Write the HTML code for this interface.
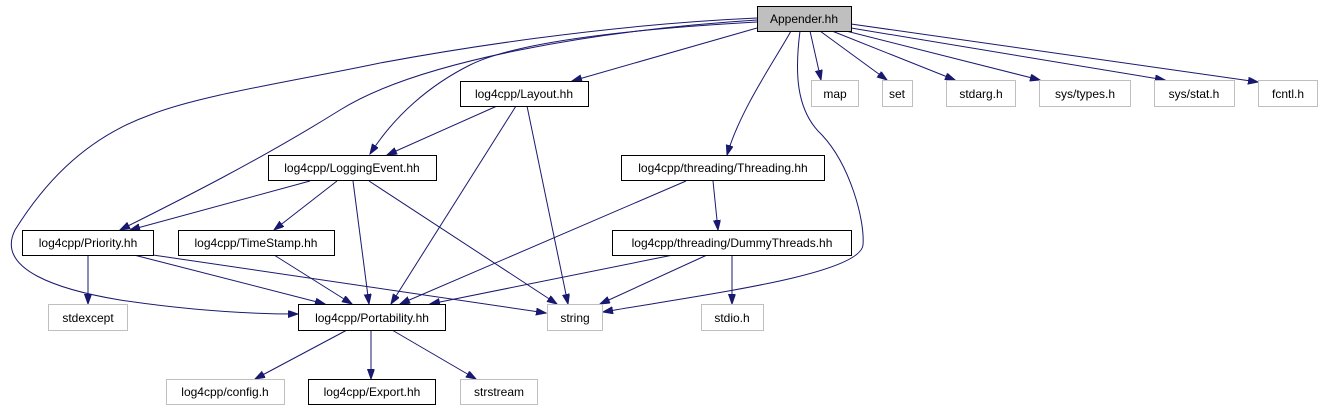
<!DOCTYPE html>
<html><head><meta charset="utf-8"><style>
html,body{margin:0;padding:0;background:#fff;}
svg{display:block;font-family:"Liberation Sans",sans-serif;font-size:12px;}
</style></head><body>
<svg width="1323" height="411" viewBox="0 0 1323 411" xmlns="http://www.w3.org/2000/svg">
<defs>
<marker id="a" markerWidth="11" markerHeight="8" refX="10" refY="3.5" orient="auto" markerUnits="userSpaceOnUse">
<path d="M0,0 L10,3.5 L0,7 z" fill="#191970" stroke="#191970"/>
</marker>
</defs>
<g fill="none" stroke="#191970" stroke-width="1" marker-end="url(#a)">
<path d="M757,28 L572,81"/>
<path d="M757,22 C650,28 520,40 470,65 C430,85 395,115 370,154"/>
<path d="M757,20 C600,30 420,60 340,110 C260,160 180,200 120,230"/>
<path d="M757,18 C600,25 450,50 380,63 C300,80 200,95 150,115 C80,140 40,190 15,230 C-5,270 60,290 120,300 C200,312 260,314 298,314"/>
<path d="M810,31 L821,80"/>
<path d="M820,31 L887,80"/>
<path d="M832,31 L955,80"/>
<path d="M846,31 L1040,80"/>
<path d="M851,28 L1165,80"/>
<path d="M851,24 L1258,82"/>
<path d="M791,31 C775,60 740,110 727,155"/>
<path d="M800,31 C795,70 795,110 822,135 C850,165 865,220 863,245 C860,275 700,295 603,312"/>
<path d="M497,106 L387,155"/>
<path d="M516,106 L391,304"/>
<path d="M527,106 L568,304"/>
<path d="M310,181 L130,230"/>
<path d="M337,181 L274,230"/>
<path d="M353,181 L369,304"/>
<path d="M369,181 L557,304"/>
<path d="M713,181 L718,230"/>
<path d="M686,181 L400,304"/>
<path d="M673,255 L430,304"/>
<path d="M707,255 L600,304"/>
<path d="M732,255 L732,304"/>
<path d="M88,255 L88,304"/>
<path d="M134,255 L325,304"/>
<path d="M153,255 L546,313"/>
<path d="M274,255 L352,304"/>
<path d="M347,330 L255,379"/>
<path d="M371,330 L371,379"/>
<path d="M392,330 L476,379"/>
</g>
<g stroke-width="1" text-anchor="middle">
<rect x="757.5" y="6.5" width="94" height="25" fill="#bfbfbf" stroke="#000"/><text x="804" y="23">Appender.hh</text>
<rect x="811.5" y="80.5" width="47" height="26" fill="#fff" stroke="#bfbfbf"/><text x="835" y="98">map</text>
<rect x="882.5" y="80.5" width="30" height="26" fill="#fff" stroke="#bfbfbf"/><text x="897" y="98">set</text>
<rect x="946.5" y="80.5" width="69" height="26" fill="#fff" stroke="#bfbfbf"/><text x="981" y="98">stdarg.h</text>
<rect x="1039.5" y="80.5" width="91" height="26" fill="#fff" stroke="#bfbfbf"/><text x="1085" y="98">sys/types.h</text>
<rect x="1154.5" y="80.5" width="80" height="26" fill="#fff" stroke="#bfbfbf"/><text x="1194" y="98">sys/stat.h</text>
<rect x="1258.5" y="80.5" width="59" height="26" fill="#fff" stroke="#bfbfbf"/><text x="1288" y="98">fcntl.h</text>
<rect x="460.5" y="81.5" width="128" height="25" fill="#fff" stroke="#000"/><text x="524" y="98">log4cpp/Layout.hh</text>
<rect x="268.5" y="155.5" width="168" height="25" fill="#fff" stroke="#000"/><text x="352" y="172">log4cpp/LoggingEvent.hh</text>
<rect x="621.5" y="155.5" width="203" height="25" fill="#fff" stroke="#000"/><text x="723" y="172">log4cpp/threading/Threading.hh</text>
<rect x="22.5" y="230.5" width="131" height="25" fill="#fff" stroke="#000"/><text x="88" y="247">log4cpp/Priority.hh</text>
<rect x="178.5" y="230.5" width="156" height="25" fill="#fff" stroke="#000"/><text x="256" y="247">log4cpp/TimeStamp.hh</text>
<rect x="612.5" y="230.5" width="239" height="25" fill="#fff" stroke="#000"/><text x="732" y="247">log4cpp/threading/DummyThreads.hh</text>
<rect x="48.5" y="304.5" width="79" height="26" fill="#fff" stroke="#bfbfbf"/><text x="88" y="322">stdexcept</text>
<rect x="298.5" y="304.5" width="147" height="26" fill="#fff" stroke="#000"/><text x="372" y="322">log4cpp/Portability.hh</text>
<rect x="547.5" y="304.5" width="55" height="26" fill="#fff" stroke="#bfbfbf"/><text x="575" y="322">string</text>
<rect x="701.5" y="304.5" width="62" height="26" fill="#fff" stroke="#bfbfbf"/><text x="732" y="322">stdio.h</text>
<rect x="166.5" y="379.5" width="118" height="25" fill="#fff" stroke="#bfbfbf"/><text x="225" y="396">log4cpp/config.h</text>
<rect x="308.5" y="379.5" width="127" height="25" fill="#fff" stroke="#000"/><text x="372" y="396">log4cpp/Export.hh</text>
<rect x="460.5" y="379.5" width="77" height="25" fill="#fff" stroke="#bfbfbf"/><text x="499" y="396">strstream</text>
</g>
</svg>
</body></html>
